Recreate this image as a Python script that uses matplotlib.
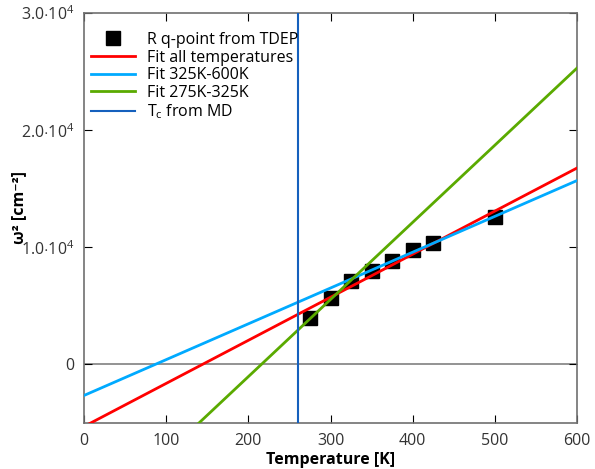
import numpy as np
import matplotlib
matplotlib.use("Agg")
import matplotlib.pyplot as plt
from matplotlib.ticker import FuncFormatter

# TDEP R-point omega^2 values
temps = [275, 300, 325, 350, 375, 400, 425, 500]
omega2 = [3930, 5640, 7090, 7950, 8800, 9740, 10340, 12560]

# linear fits: (slope, intercept)
fit_all = (36.8, -5300)
fit_high = (30.6, -2650)
fit_low = (65.9, -14220)
tc_md = 261

plt.rcParams['font.family'] = ['Open Sans', 'DejaVu Sans']
plt.rcParams['mathtext.fontset'] = 'custom'
plt.rcParams['mathtext.rm'] = 'Open Sans'

fig = plt.figure(figsize=(5.95, 4.69), dpi=100)
ax = fig.add_axes([0.141, 0.098, 0.829, 0.874])

T = np.array([0, 600])
ax.axhline(0, color='#808080', lw=1.2, zorder=1)
ax.plot(temps, omega2, 's', color='black', ms=10, label='R q-point from TDEP', zorder=3)
ax.plot(T, fit_all[0] * T + fit_all[1], color='#ff0000', lw=2, label='Fit all temperatures', zorder=4)
ax.plot(T, fit_high[0] * T + fit_high[1], color='#00aaff', lw=2, label='Fit 325K-600K', zorder=4)
ax.plot(T, fit_low[0] * T + fit_low[1], color='#5aaa00', lw=2, label='Fit 275K-325K', zorder=4)
ax.axvline(tc_md, color='#1560bd', lw=1.5, label='T$_\\mathrm{c}$ from MD', zorder=4)

ax.set_xlim(0, 600)
ax.set_ylim(-5000, 30000)
ax.set_xticks(np.arange(0, 601, 100))
ax.set_yticks([0, 10000, 20000, 30000])

def yfmt(v, pos):
    if v == 0:
        return '0'
    e = int(np.floor(np.log10(abs(v))))
    return '%.1f$\\cdot$10$^{%d}$' % (v / 10 ** e, e)

ax.yaxis.set_major_formatter(FuncFormatter(yfmt))
ax.tick_params(direction='in', top=True, right=True, length=6, labelsize=11.5,
               labelcolor='#333333', pad=7)
for s in ax.spines.values():
    s.set_color('#707070')
    s.set_linewidth(1.2)

ax.set_xlabel('Temperature [K]', fontsize=11.5, fontweight='bold', labelpad=2)
ax.set_ylabel('ω² [cm⁻²]', fontsize=11.5, fontweight='bold',
              family=['Open Sans', 'DejaVu Sans'])
ax.yaxis.set_label_coords(-0.115, 0.525)

ax.legend(loc='upper left', bbox_to_anchor=(-0.012, 0.985), frameon=False,
          fontsize=11.5, handlelength=2.8, borderaxespad=0.4,
          labelspacing=0.1, handletextpad=0.7)

fig.savefig('out.png', dpi=100)
